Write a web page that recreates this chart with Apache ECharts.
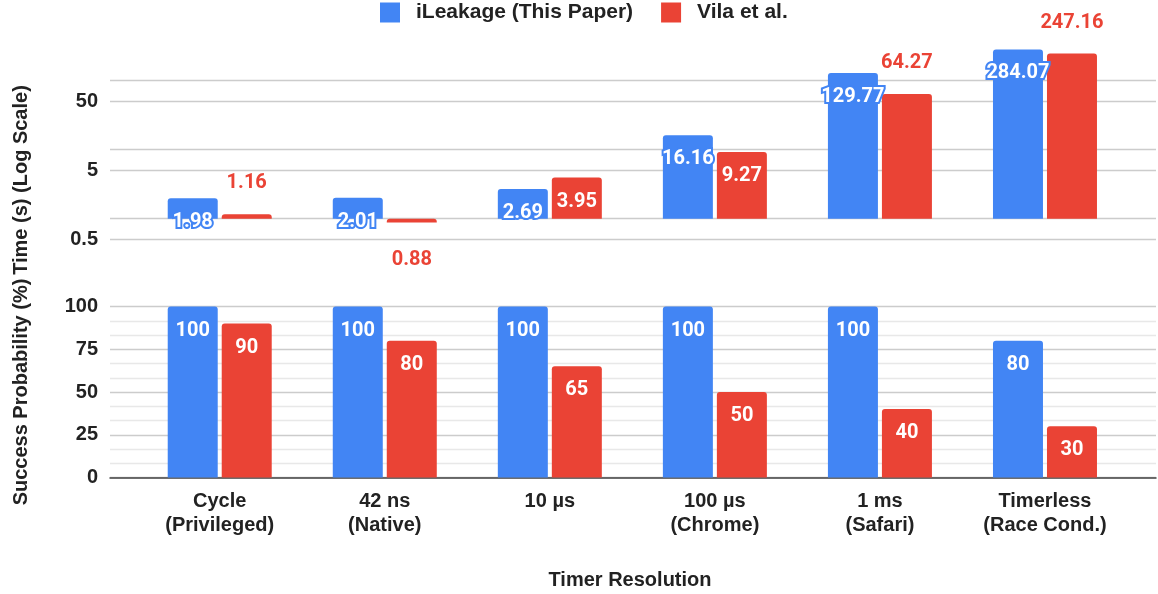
<!DOCTYPE html>
<html>
<head>
<meta charset="utf-8">
<script src="https://cdn.jsdelivr.net/npm/echarts@6/dist/echarts.min.js"></script>
<style>
  html, body { margin: 0; padding: 0; background: #fff; }
  #chart { width: 1158px; height: 594px; }
</style>
</head>
<body>
<div id="chart"></div>
<script>
// Timer resolutions on the shared category axis
const categories = [
  'Cycle\n(Privileged)', '42 ns\n(Native)', '10 µs', '100 µs\n(Chrome)', '1 ms\n(Safari)', 'Timerless\n(Race Cond.)'
];
// Attack time in seconds (log scale panel)
const timeIleakage = [1.98, 2.01, 2.69, 16.16, 129.77, 284.07];
const timeVila = [1.16, 0.88, 3.95, 9.27, 64.27, 247.16];
// Success probability in percent
const successIleakage = [100, 100, 100, 100, 100, 80];
const successVila = [90, 80, 65, 50, 40, 30];
// Log-panel gridlines and labelled ticks
const timeGridValues = [0.5, 1, 5, 10, 50, 100];
const timeTickLabels = [0.5, 5, 50];
const timeRange = [0.5, 500];
// Where each Vila et al. time label sits relative to its bar
const vilaTimeLabelPos = ['top', 'bottom', 'insideTop', 'insideTop', 'top', 'top'];

const BLUE = '#4285F4';
const RED = '#EA4335';
const names = ['iLeakage (This Paper)', 'Vila et al.'];
const lg = Math.log10;

const plotLeft = 137.2, plotRight = 30.5;
const gridLeft = 110, gridRight = 2;
const topY = 32.5, topH = 207;
const botY = 306.5, botH = 171;

const axisFont = { fontFamily: 'Liberation Sans, Arial, sans-serif', fontWeight: 'bold', fontSize: 20, color: '#222' };
const labelFont = { fontFamily: 'Roboto, sans-serif', fontWeight: 'bold', fontSize: 20 };
const INSIDE_DIST = 14;

function fmt(v) { return String(Math.round(Math.pow(10, v) * 100) / 100); }

const chart = echarts.init(document.getElementById('chart'), null, { renderer: 'canvas' });

const option = {
  animation: false,
  textStyle: { fontFamily: 'Liberation Sans, Arial, sans-serif' },
  legend: {
    data: names,
    top: 2,
    left: 380,
    padding: 0,
    itemWidth: 20,
    itemHeight: 20,
    itemGap: 28,
    icon: 'rect',
    textStyle: Object.assign({}, axisFont, { fontSize: 21, padding: [0, 0, 0, 11] })
  },
  grid: [
    { left: plotLeft, right: plotRight, top: topY, height: topH },
    { left: gridLeft, right: gridRight, top: topY, height: topH },
    { left: plotLeft, right: plotRight, top: botY, height: botH },
    { left: gridLeft, right: gridRight, top: botY, height: botH }
  ],
  xAxis: [
    { type: 'category', gridIndex: 0, data: categories, show: false },
    { type: 'category', gridIndex: 1, data: [''], show: false },
    {
      type: 'category', gridIndex: 2, data: categories,
      axisLine: { show: false }, axisTick: { show: false },
      axisLabel: Object.assign({}, axisFont, { margin: 12, lineHeight: 24, interval: 0 })
    },
    {
      type: 'category', gridIndex: 3, data: [''],
      axisLine: { show: true, lineStyle: { color: '#444', width: 1.5 } },
      axisTick: { show: false }, axisLabel: { show: false }
    }
  ],
  yAxis: [
    { type: 'value', gridIndex: 0, min: lg(timeRange[0]), max: lg(timeRange[1]), show: false },
    {
      type: 'value', gridIndex: 1, min: lg(timeRange[0]), max: lg(timeRange[1]),
      axisLine: { show: false },
      axisTick: { show: false, customValues: timeGridValues.map(lg) },
      splitLine: { show: true, lineStyle: { color: '#ccc', width: 1.3 } },
      axisLabel: Object.assign({}, axisFont, {
        margin: 12,
        customValues: timeTickLabels.map(lg),
        formatter: fmt
      })
    },
    { type: 'value', gridIndex: 2, min: 0, max: 100, show: false },
    {
      type: 'value', gridIndex: 3, min: 0, max: 100, interval: 25,
      axisLine: { show: false }, axisTick: { show: false },
      minorTick: { show: false, splitNumber: 3 },
      splitLine: { show: true, lineStyle: { color: '#ccc', width: 1.3 } },
      minorSplitLine: { show: true, lineStyle: { color: '#e8e8e8', width: 1.3 } },
      axisLabel: Object.assign({}, axisFont, { margin: 12 })
    }
  ],
  series: [
    {
      name: names[0], type: 'bar', xAxisIndex: 0, yAxisIndex: 0,
      barWidth: 50, barGap: '8%',
      itemStyle: { color: BLUE, borderRadius: [3, 3, 0, 0] },
      data: timeIleakage.map(lg),
      label: Object.assign({}, labelFont, {
        show: true, position: 'insideTop', distance: INSIDE_DIST, color: '#fff',
        textBorderColor: BLUE, textBorderWidth: 4,
        formatter: p => String(timeIleakage[p.dataIndex])
      })
    },
    {
      name: names[1], type: 'bar', xAxisIndex: 0, yAxisIndex: 0,
      barWidth: 50, barGap: '8%',
      itemStyle: { color: RED, borderRadius: [3, 3, 0, 0] },
      data: timeVila.map((v, i) => {
        const pos = vilaTimeLabelPos[i];
        const inside = pos === 'insideTop';
        return {
          value: lg(v),
          label: {
            position: pos,
            distance: inside ? INSIDE_DIST : (pos === 'bottom' ? 27.5 : 21),
            color: inside ? '#fff' : RED
          }
        };
      }),
      label: Object.assign({}, labelFont, {
        show: true,
        formatter: p => timeVila[p.dataIndex].toFixed(2)
      })
    },
    {
      name: names[0], type: 'bar', xAxisIndex: 2, yAxisIndex: 2,
      barWidth: 50, barGap: '8%',
      itemStyle: { color: BLUE, borderRadius: [3, 3, 0, 0] },
      data: successIleakage,
      label: Object.assign({}, labelFont, { show: true, position: 'insideTop', distance: INSIDE_DIST, color: '#fff' })
    },
    {
      name: names[1], type: 'bar', xAxisIndex: 2, yAxisIndex: 2,
      barWidth: 50, barGap: '8%',
      itemStyle: { color: RED, borderRadius: [3, 3, 0, 0] },
      data: successVila,
      label: Object.assign({}, labelFont, { show: true, position: 'insideTop', distance: INSIDE_DIST, color: '#fff' })
    }
  ],
  graphic: [
    {
      type: 'text', x: 21, y: 180, rotation: Math.PI / 2,
      style: { text: 'Time (s) (Log Scale)', align: 'center', verticalAlign: 'middle',
        font: 'bold 20px "Liberation Sans", Arial, sans-serif', fill: '#222' }
    },
    {
      type: 'text', x: 21, y: 392, rotation: Math.PI / 2,
      style: { text: 'Success Probability (%)', align: 'center', verticalAlign: 'middle',
        font: 'bold 20px "Liberation Sans", Arial, sans-serif', fill: '#222' }
    },
    {
      type: 'text', x: 630, y: 580,
      style: { text: 'Timer Resolution', align: 'center', verticalAlign: 'middle',
        font: 'bold 20px "Liberation Sans", Arial, sans-serif', fill: '#222' }
    }
  ]
};

chart.setOption(option);
</script>
</body>
</html>
